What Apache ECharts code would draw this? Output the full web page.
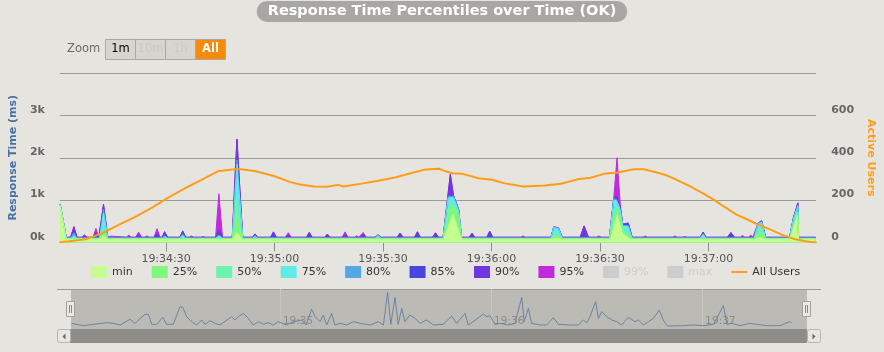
<!DOCTYPE html>
<html>
<head>
<meta charset="utf-8">
<script src="https://cdn.jsdelivr.net/npm/echarts@6/dist/echarts.min.js"></script>
<style>
html, body { margin: 0; padding: 0; background: #e6e4df; }
#chart { width: 884px; height: 352px; }
</style>
</head>
<body>
<div id="chart"></div>
<script>
// times are seconds after 19:34:00, values in ms
var pMin = [[0.7,860],[2.4,75],[11.8,75],[12.7,160],[13.7,75],[48.5,75],[49.6,230],[51.0,75],
    [106.8,75],[109.3,660],[111.7,75],[136.6,75],[137.6,100],[139.4,75],[152.9,75],[154.7,635],[156.3,200],[158.4,75],
    [193.0,75],[194.2,120],[195.6,75],[202.5,75],[204.6,640],[204.9,75],[209.6,75]];
var p25 = [[0.7,880],[2.4,85],[11.6,85],[12.7,250],[13.9,85],[48.3,85],[49.6,600],[51.2,85],
    [106.6,85],[108.5,800],[109.5,820],[110.9,650],[111.7,85],[136.4,85],[137.5,150],[138.5,145],[139.6,85],
    [152.6,85],[154.0,650],[154.7,700],[155.6,600],[156.3,250],[158.9,85],
    [192.6,85],[193.8,200],[194.7,220],[195.8,85],[202.4,85],[203.7,400],[204.7,690],[204.9,85],[209.6,85]];
var p50 = [[0.7,890],[2.4,92],[11.6,92],[12.7,350],[13.9,92],[48.3,92],[49.6,1000],[51.2,92],
    [106.6,92],[108.3,900],[109.5,900],[110.9,700],[111.7,92],[136.4,92],[137.4,200],[138.5,190],[139.6,92],
    [152.6,92],[153.9,800],[154.7,820],[155.6,680],[156.3,300],[157.5,250],[158.9,92],
    [192.6,92],[193.7,300],[194.7,320],[195.8,92],[202.4,92],[203.5,450],[204.7,720],[204.9,92],[209.6,92]];
var p75 = [[0.7,900],[2.4,100],[3.6,100],[4.5,150],[5.4,100],[11.6,100],[12.7,700],[13.9,100],
    [28.9,100],[29.6,150],[30.4,100],[33.8,100],[34.6,160],[35.4,100],[43.7,100],[44.6,150],[45.6,100],
    [48.3,100],[49.6,1850],[51.2,100],[53.9,100],[54.6,160],[55.3,100],[87.8,100],[88.6,165],[89.4,100],
    [106.6,100],[108.0,1050],[109.5,1060],[110.9,740],[111.7,100],[136.4,100],[137.2,350],[138.5,330],[139.6,100],
    [152.6,100],[153.8,1000],[154.7,980],[155.6,760],[156.3,380],[157.2,380],[157.8,370],[158.9,100],
    [177.7,100],[178.5,190],[179.3,100],[192.6,100],[193.7,440],[194.7,480],[195.8,100],
    [202.4,100],[203.5,560],[204.7,860],[204.9,100],[209.6,100]];
var p80 = [[0.7,900],[2.4,105],[3.6,105],[4.5,230],[5.4,105],[11.6,105],[12.7,780],[13.9,105],
    [33.8,105],[34.6,200],[35.4,105],[43.7,105],[44.6,180],[45.6,105],[48.3,105],[49.6,1950],[51.2,105],
    [87.8,105],[88.6,170],[89.4,105],[106.6,105],[108.0,1090],[109.5,1090],[110.9,770],[111.7,105],
    [136.4,105],[137.2,355],[138.5,335],[139.6,105],
    [152.6,105],[153.8,1035],[154.5,1020],[155.6,780],[156.3,400],[157.2,400],[157.8,400],[158.9,105],
    [177.7,105],[178.5,200],[179.3,105],[192.6,105],[193.7,445],[194.7,490],[195.8,105],
    [202.4,105],[203.5,570],[204.7,880],[204.9,105],[209.6,105]];
var p85 = [[0.7,900],[2.4,110],[3.6,110],[4.5,260],[5.4,110],[9.8,110],[10.6,200],[11.4,110],
    [11.6,110],[12.7,820],[13.9,110],[26.7,110],[27.5,160],[28.3,110],[28.9,110],[29.6,200],[30.4,110],
    [33.8,110],[34.6,240],[35.4,110],[43.7,110],[44.6,220],[45.6,110],[48.3,110],[49.6,2050],[51.2,110],
    [53.9,110],[54.6,180],[55.3,110],[58.9,110],[59.7,180],[60.5,110],[68.8,110],[69.6,170],[70.4,110],
    [87.8,110],[88.6,175],[89.4,110],[98.7,110],[99.5,190],[100.3,110],
    [106.6,110],[108.0,1100],[109.5,1100],[110.9,780],[111.7,110],[118.7,110],[119.5,200],[120.3,110],
    [136.4,110],[137.2,360],[138.5,340],[139.6,110],
    [152.6,110],[153.8,1040],[154.5,1040],[155.6,790],[156.3,410],[157.2,420],[157.8,420],[158.9,110],
    [177.7,110],[178.5,220],[179.3,110],[185.2,110],[186.2,180],[187.2,110],
    [192.6,110],[193.7,450],[194.7,500],[195.8,110],[202.4,110],[203.5,580],[204.7,900],[204.9,110],[209.6,110]];
var p90 = [[0.7,905],[2.4,118],[3.6,118],[4.5,360],[5.4,118],[6.7,118],[7.4,150],[8.1,118],
    [9.8,118],[10.6,220],[11.4,118],[11.6,118],[12.7,900],[13.9,118],[21.6,118],[22.4,180],[23.2,118],
    [26.7,118],[27.5,220],[28.3,118],[28.9,118],[29.6,240],[30.4,118],[33.8,118],[34.6,270],[35.4,118],
    [43.7,118],[44.6,300],[45.6,118],[48.3,118],[49.6,2440],[51.2,118],[53.9,118],[54.6,200],[55.3,118],
    [58.9,118],[59.7,250],[60.5,118],[63.0,118],[63.8,170],[64.6,118],[68.8,118],[69.6,235],[70.4,118],
    [73.9,118],[74.6,195],[75.3,118],[78.7,118],[79.5,190],[80.3,118],[83.7,118],[84.5,200],[85.3,118],
    [87.8,118],[88.6,180],[89.4,118],[93.9,118],[94.7,220],[95.5,118],[98.7,118],[99.5,250],[100.3,118],
    [103.7,118],[104.5,225],[105.3,118],[106.6,118],[108.6,1600],[109.5,1100],[110.9,780],[111.7,118],
    [113.8,118],[114.6,215],[115.4,118],[118.7,118],[119.5,265],[120.3,118],
    [136.4,118],[137.2,365],[138.5,345],[139.6,118],[144.5,118],[145.6,390],[146.8,118],
    [152.6,118],[153.8,1050],[154.5,1100],[155.6,800],[156.3,430],[157.2,445],[157.8,460],[158.9,118],
    [177.7,118],[178.5,240],[179.3,118],[185.2,118],[186.2,230],[187.2,118],
    [192.6,118],[193.7,455],[194.7,510],[195.8,118],[202.4,118],[203.5,590],[204.7,930],[204.9,118],[209.6,118]];
var p95 = [[0.7,910],[2.4,128],[3.6,128],[4.5,380],[5.4,128],[6.7,128],[7.4,180],[8.1,128],
    [9.8,128],[10.6,330],[11.4,128],[11.6,128],[12.7,900],[13.9,128],[14.2,128],[14.7,150],[15.2,128],
    [19.0,128],[19.7,170],[20.4,128],[21.6,128],[22.4,245],[23.2,128],[24.1,128],[24.7,155],[25.3,128],
    [26.7,128],[27.5,325],[28.3,128],[28.9,128],[29.6,260],[30.4,128],[33.8,128],[34.6,275],[35.4,128],
    [36.4,128],[37.0,155],[37.6,128],[39.6,128],[40.2,140],[40.8,128],[43.7,128],[44.6,1150],[45.6,128],
    [48.3,128],[49.0,1500],[49.6,2440],[50.3,1400],[51.2,128],[53.9,128],[54.6,205],[55.3,128],
    [58.9,128],[59.7,250],[60.5,128],[63.0,128],[63.8,230],[64.6,128],[68.8,128],[69.6,235],[70.4,128],
    [73.9,128],[74.6,200],[75.3,128],[78.7,128],[79.5,250],[80.3,128],[82.1,128],[82.7,155],[83.3,128],
    [83.7,128],[84.5,235],[85.3,128],[87.8,128],[88.6,185],[89.4,128],[93.9,128],[94.7,225],[95.5,128],
    [98.7,128],[99.5,255],[100.3,128],[103.7,128],[104.5,230],[105.3,128],
    [106.6,128],[108.6,1620],[109.5,1100],[110.9,780],[111.7,128],[113.8,128],[114.6,220],[115.4,128],
    [118.7,128],[119.5,270],[120.3,128],[128.1,128],[128.7,155],[129.3,128],
    [136.4,128],[137.2,370],[138.5,350],[139.6,128],[144.5,128],[145.6,395],[146.8,128],
    [149.1,128],[149.7,155],[150.3,128],
    [152.6,128],[153.8,1050],[154.7,2000],[155.6,900],[156.3,430],[157.2,450],[157.8,460],[158.9,128],
    [161.9,128],[162.5,155],[163.1,128],[170.1,128],[170.7,155],[171.3,128],[172.8,128],[173.4,140],[174.0,128],
    [177.7,128],[178.5,245],[179.3,128],[185.2,128],[186.2,235],[187.2,128],[188.8,128],[189.4,165],[190.0,128],
    [191.1,128],[191.7,170],[192.3,128],[192.6,128],[193.7,460],[194.7,515],[195.8,128],
    [202.4,128],[203.5,600],[204.7,940],[204.9,128],[209.6,128]];
var p99 = [];
var pMax = [];

// active users (seconds, users)
var users = [[0.6,1],[3.3,6],[7.8,15],[12.4,44],[17.0,84],[21.5,121],[26.1,165],[30.7,213],[35.2,256],
    [39.8,296],[44.3,336],[48.9,346],[50.7,346],[54.4,338],[59.8,314],[64.4,285],[67.1,274],[70.8,264],
    [74.5,263],[77.6,272],[79.0,264],[84.5,279],[89.0,293],[93.6,308],[98.2,329],[101.8,345],[105.5,348],
    [107.3,336],[109.1,327],[111.8,325],[116.4,303],[120.1,296],[123.7,279],[128.7,264],[134.7,269],
    [139.2,277],[143.8,298],[147.4,306],[151.1,324],[154.8,330],[159.3,346],[162.1,346],[165.7,330],
    [168.4,317],[171.2,296],[174.8,266],[178.5,232],[181.2,205],[184.0,173],[187.6,133],[190.3,112],
    [193.1,89],[196.7,64],[200.4,36],[204.0,15],[207.7,4],[209.8,0]];

// navigator overview line
var navData = [[0.8,510],[4.1,300],[7.0,420],[10.8,570],[12.7,510],[14.6,360],[17.4,870],[18.8,510],[20.0,870],
    [21.7,1320],[22.6,1320],[23.6,420],[25.0,420],[26.7,1050],[27.8,420],[29.7,420],[31.6,2010],[32.4,1950],
    [33.5,1110],[34.9,660],[36.3,360],[37.8,810],[38.7,420],[40.1,750],[41.5,510],[43.0,360],[44.9,810],
    [46.3,1110],[47.2,810],[48.2,1110],[49.6,1410],[51.0,960],[52.4,360],[53.9,660],[55.3,420],[56.7,570],
    [58.1,360],[59.5,660],[61.9,360],[63.8,660],[66.2,810],[67.4,360],[69.0,1770],[70.0,1110],[71.4,660],
    [72.3,1260],[73.3,360],[74.7,1410],[75.6,360],[77.1,510],[78.9,360],[80.9,660],[82.8,510],[85.6,360],
    [88.0,660],[89.4,360],[90.6,3300],[91.5,420],[92.7,2820],[93.6,420],[94.6,1860],[95.5,660],[96.9,1260],
    [98.4,960],[99.8,510],[101.7,810],[103.6,360],[106.4,420],[108.8,1170],[110.2,510],[112.6,1410],
    [113.5,360],[114.9,660],[117.8,1350],[118.8,1110],[119.7,1200],[121.1,420],[122.5,510],[124.9,360],
    [126.8,510],[128.7,2850],[129.4,660],[130.6,1860],[131.5,510],[133.9,360],[135.8,360],[137.7,1020],
    [139.1,420],[142.4,360],[144.8,360],[146.2,810],[147.2,570],[148.1,1110],[149.7,2460],[150.5,960],
    [151.4,1560],[152.9,1110],[154.3,810],[155.7,660],[157.1,360],[159.0,1050],[160.9,660],[161.8,810],
    [163.3,360],[164.7,660],[166.1,960],[167.8,1710],[168.9,810],[170.1,270],[174.6,300],[177.5,360],
    [180.3,300],[183.2,420],[186.0,2100],[187.0,420],[188.4,510],[190.7,300],[193.6,510],[195.5,420],
    [198.3,300],[202.1,300],[204.8,660],[205.4,570]];

var pctNames = ['min', '25%', '50%', '75%', '80%', '85%', '90%', '95%', '99%', 'max'];
var pctColors = ['#c6fd8f', '#7ff77f', '#6ef2ac', '#60ece6', '#52a8e6', '#4746e0', '#7036e0', '#c02ae0', '#e02a8c', '#f03c3c'];
var pctData = [pMin, p25, p50, p75, p80, p85, p90, p95, p99, pMax];
var xTicks = [30, 60, 90, 120, 150, 180];
var navTicks = [60, 120, 180];

var xMin = 0.63, xMax = 209.76;
var font = 'DejaVu Sans';

function pad(n) { return n < 10 ? '0' + n : '' + n; }
function clock(s, withSec) {
    var t = 19 * 3600 + 34 * 60 + Math.round(s);
    var h = Math.floor(t / 3600), m = Math.floor(t % 3600 / 60), sec = t % 60;
    return h + ':' + pad(m) + (withSec ? ':' + pad(sec) : '');
}

var series = [];
for (var i = pctNames.length - 1; i >= 0; i--) {
    series.push({
        name: pctNames[i],
        type: 'line',
        data: pctData[i],
        color: pctColors[i],
        symbol: 'none',
        lineStyle: { width: 1, color: pctColors[i] },
        areaStyle: { color: pctColors[i], opacity: 1 },
        silent: true
    });
}
series.push({
    name: 'All Users',
    type: 'line',
    yAxisIndex: 1,
    data: users,
    color: '#ff9d18',
    symbol: 'none',
    lineStyle: { width: 2, color: '#ff9d18' },
    z: 5
});
series.push({
    name: 'navigator',
    type: 'line',
    xAxisIndex: 1,
    yAxisIndex: 2,
    data: navData,
    symbol: 'none',
    lineStyle: { width: 1, color: '#6b84a5' },
    silent: true
});

var legendData = pctNames.map(function (n) { return { name: n, icon: 'rect' }; });
legendData.push({ name: 'All Users', icon: 'path://M0,5L16,5L16,7L0,7Z' });

// range selector buttons
var buttons = [
    { label: '1m', x: 105, fill: '#d6d5d1', color: '#000', bold: false },
    { label: '10m', x: 135, fill: '#d6d5d1', color: '#cbcbcb', bold: false },
    { label: '1h', x: 165, fill: '#d6d5d1', color: '#cbcbcb', bold: false },
    { label: 'All', x: 195, fill: '#fb8b06', color: '#fff', bold: true }
];
var graphics = [{
    type: 'text', x: 67, y: 49,
    style: { text: 'Zoom', fill: '#6b6b6b', font: '11.5px "DejaVu Sans"', verticalAlign: 'middle' }
}];
buttons.forEach(function (b) {
    graphics.push({
        type: 'rect', shape: { x: b.x + 0.5, y: 39.5, width: 30, height: 20 },
        style: { fill: b.fill, stroke: '#aaa8a4', lineWidth: 1 }
    });
    graphics.push({
        type: 'text', x: b.x + 15.5, y: 49.5,
        style: { text: b.label, fill: b.color, align: 'center', verticalAlign: 'middle',
            font: (b.bold ? 'bold ' : '') + '11.5px "DejaVu Sans"' }
    });
});
// navigator outline, scrollbar, handles
graphics.push(
    { type: 'line', shape: { x1: 57, y1: 289.5, x2: 821, y2: 289.5 }, style: { stroke: '#9c9a97', lineWidth: 1 } },
    { type: 'rect', shape: { x: 70, y: 329, width: 737, height: 14 }, style: { fill: '#8e8c88' } },
    { type: 'rect', shape: { x: 57.5, y: 329.5, width: 13, height: 13, r: 2 }, style: { fill: '#e8e6e2', stroke: '#b5b3b0' } },
    { type: 'polygon', shape: { points: [[65.5, 333.5], [65.5, 339.5], [62.5, 336.5]] }, style: { fill: '#666' } },
    { type: 'rect', shape: { x: 807.5, y: 329.5, width: 13, height: 13, r: 2 }, style: { fill: '#e8e6e2', stroke: '#b5b3b0' } },
    { type: 'polygon', shape: { points: [[812.5, 333.5], [812.5, 339.5], [815.5, 336.5]] }, style: { fill: '#666' } }
);
[66.5, 802.5].forEach(function (hx) {
    graphics.push(
        { type: 'rect', shape: { x: hx, y: 301.5, width: 8, height: 15 }, style: { fill: '#ebe9e6', stroke: '#a3a19e' } },
        { type: 'line', shape: { x1: hx + 3, y1: 305, x2: hx + 3, y2: 313 }, style: { stroke: '#8a8885' } },
        { type: 'line', shape: { x1: hx + 5, y1: 305, x2: hx + 5, y2: 313 }, style: { stroke: '#8a8885' } }
    );
});

var chart = echarts.init(document.getElementById('chart'));
chart.setOption({
    animation: false,
    backgroundColor: '#e6e4df',
    textStyle: { fontFamily: font },
    title: {
        text: 'Response Time Percentiles over Time (OK)',
        left: 'center',
        top: 1,
        backgroundColor: '#a9a7a3',
        borderRadius: 11,
        padding: [3, 11, 3, 11],
        textStyle: { color: '#fff', fontSize: 14.5, fontWeight: 'bold', fontFamily: font }
    },
    legend: {
        data: legendData,
        left: 86,
        top: 261,
        itemWidth: 16,
        itemHeight: 12,
        itemGap: 19,
        inactiveColor: '#cccccc',
        selected: { '99%': false, 'max': false },
        textStyle: { fontSize: 11, color: '#333', fontFamily: font }
    },
    grid: [
        { left: 57, right: 63, top: 73, bottom: 109.5 },
        { left: 71, right: 77, top: 289, height: 40, show: true, backgroundColor: '#bcbab5', borderWidth: 0 }
    ],
    xAxis: [{
        type: 'value', min: xMin, max: xMax,
        axisLine: { lineStyle: { color: '#8c8c8c' } },
        axisTick: { length: 9, lineStyle: { color: '#8c8c8c' }, customValues: xTicks },
        axisLabel: { customValues: xTicks, formatter: function (v) { return clock(v, true); },
            color: '#555', fontSize: 11, margin: 11, fontFamily: font },
        splitLine: { show: false }
    }, {
        type: 'value', gridIndex: 1, min: xMin, max: xMax,
        axisLine: { show: false },
        axisTick: { show: false, customValues: navTicks },
        axisLabel: { customValues: navTicks, inside: true, margin: 2.5, align: 'left', padding: [0, 0, 0, 3],
            formatter: function (v) { return clock(v, false); }, color: '#8d8b87', fontSize: 10.5, fontFamily: font },
        splitLine: { show: true, lineStyle: { color: '#c7c5c1' } }
    }],
    yAxis: [{
        type: 'value', min: 0, max: 4000, interval: 1000, position: 'left',
        name: 'Response Time (ms)', nameLocation: 'middle', nameRotate: 90, nameGap: 36,
        nameTextStyle: { color: '#4572a7', fontWeight: 'bold', fontSize: 11, fontFamily: font },
        axisLine: { show: false }, axisTick: { show: false },
        axisLabel: { showMaxLabel: false, formatter: function (v) { return v / 1000 + 'k'; },
            color: '#666', fontWeight: 'bold', fontSize: 11, margin: 15, verticalAlign: 'bottom', fontFamily: font },
        splitLine: { lineStyle: { color: '#9a9a9a' } }
    }, {
        type: 'value', min: 0, max: 800, interval: 200, position: 'right',
        name: 'Active Users', nameLocation: 'middle', nameRotate: -90, nameGap: 42,
        nameTextStyle: { color: '#ff9d1e', fontWeight: 'bold', fontSize: 11, fontFamily: font },
        axisLine: { show: false }, axisTick: { show: false },
        axisLabel: { showMaxLabel: false, color: '#666', fontWeight: 'bold', fontSize: 11, margin: 15,
            verticalAlign: 'bottom', fontFamily: font },
        splitLine: { show: false }
    }, {
        type: 'value', gridIndex: 1, min: 0, max: 3600, show: false
    }],
    series: series,
    graphic: graphics
});
</script>
</body>
</html>
